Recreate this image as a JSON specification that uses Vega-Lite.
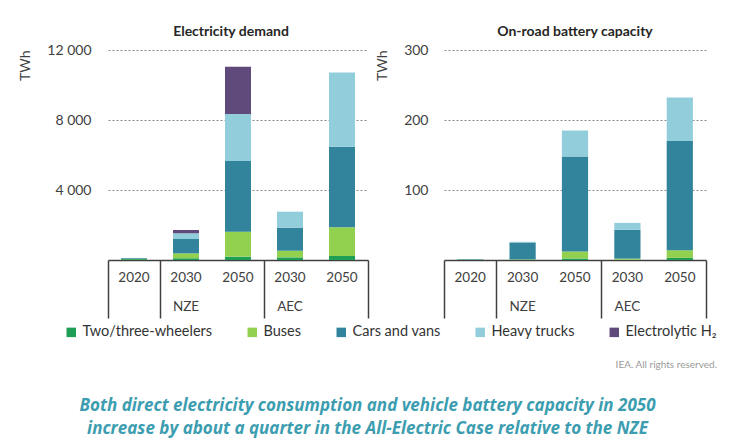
{
  "$schema": "https://vega.github.io/schema/vega-lite/v6.json",
  "padding": {"left": 18, "top": 25, "right": 5, "bottom": 5},
  "background": "white",
  "config": {
    "font": "Lato",
    "view": {"stroke": null},
    "axis": {"labelFont": "Lato", "titleFont": "Lato"},
    "legend": {"labelFont": "Lato", "titleFont": "Lato"}
  },
  "data": {
    "values": [
      {"panel": "demand", "cat": "2020", "mode": "Two/three-wheelers", "value": 50},
      {"panel": "demand", "cat": "2020", "mode": "Buses", "value": 20},
      {"panel": "demand", "cat": "2020", "mode": "Cars and vans", "value": 40},
      {"panel": "demand", "cat": "NZE 2030", "mode": "Two/three-wheelers", "value": 100},
      {"panel": "demand", "cat": "NZE 2030", "mode": "Buses", "value": 280},
      {"panel": "demand", "cat": "NZE 2030", "mode": "Cars and vans", "value": 820},
      {"panel": "demand", "cat": "NZE 2030", "mode": "Heavy trucks", "value": 325},
      {"panel": "demand", "cat": "NZE 2030", "mode": "Electrolytic H₂", "value": 190},
      {"panel": "demand", "cat": "NZE 2050", "mode": "Two/three-wheelers", "value": 190},
      {"panel": "demand", "cat": "NZE 2050", "mode": "Buses", "value": 1430},
      {"panel": "demand", "cat": "NZE 2050", "mode": "Cars and vans", "value": 4040},
      {"panel": "demand", "cat": "NZE 2050", "mode": "Heavy trucks", "value": 2680},
      {"panel": "demand", "cat": "NZE 2050", "mode": "Electrolytic H₂", "value": 2700},
      {"panel": "demand", "cat": "AEC 2030", "mode": "Two/three-wheelers", "value": 150},
      {"panel": "demand", "cat": "AEC 2030", "mode": "Buses", "value": 380},
      {"panel": "demand", "cat": "AEC 2030", "mode": "Cars and vans", "value": 1320},
      {"panel": "demand", "cat": "AEC 2030", "mode": "Heavy trucks", "value": 910},
      {"panel": "demand", "cat": "AEC 2050", "mode": "Two/three-wheelers", "value": 230},
      {"panel": "demand", "cat": "AEC 2050", "mode": "Buses", "value": 1640},
      {"panel": "demand", "cat": "AEC 2050", "mode": "Cars and vans", "value": 4600},
      {"panel": "demand", "cat": "AEC 2050", "mode": "Heavy trucks", "value": 4250},
      {"panel": "battery", "cat": "2020", "mode": "Two/three-wheelers", "value": 0.3},
      {"panel": "battery", "cat": "2020", "mode": "Buses", "value": 0.2},
      {"panel": "battery", "cat": "2020", "mode": "Cars and vans", "value": 0.6},
      {"panel": "battery", "cat": "NZE 2030", "mode": "Two/three-wheelers", "value": 0.5},
      {"panel": "battery", "cat": "NZE 2030", "mode": "Buses", "value": 0.5},
      {"panel": "battery", "cat": "NZE 2030", "mode": "Cars and vans", "value": 24},
      {"panel": "battery", "cat": "NZE 2030", "mode": "Heavy trucks", "value": 1},
      {"panel": "battery", "cat": "NZE 2050", "mode": "Two/three-wheelers", "value": 2},
      {"panel": "battery", "cat": "NZE 2050", "mode": "Buses", "value": 10},
      {"panel": "battery", "cat": "NZE 2050", "mode": "Cars and vans", "value": 136},
      {"panel": "battery", "cat": "NZE 2050", "mode": "Heavy trucks", "value": 37},
      {"panel": "battery", "cat": "AEC 2030", "mode": "Two/three-wheelers", "value": 0.5},
      {"panel": "battery", "cat": "AEC 2030", "mode": "Buses", "value": 1.5},
      {"panel": "battery", "cat": "AEC 2030", "mode": "Cars and vans", "value": 41},
      {"panel": "battery", "cat": "AEC 2030", "mode": "Heavy trucks", "value": 10},
      {"panel": "battery", "cat": "AEC 2050", "mode": "Two/three-wheelers", "value": 3},
      {"panel": "battery", "cat": "AEC 2050", "mode": "Buses", "value": 11},
      {"panel": "battery", "cat": "AEC 2050", "mode": "Cars and vans", "value": 156},
      {"panel": "battery", "cat": "AEC 2050", "mode": "Heavy trucks", "value": 62}
    ]
  },
  "transform": [
    {"calculate": "indexof(['Two/three-wheelers', 'Buses', 'Cars and vans', 'Heavy trucks', 'Electrolytic H₂'], datum.mode)", "as": "stack_rank"}
  ],
  "title": {
    "text": ["Both direct electricity consumption and vehicle battery capacity in 2050", "increase by about a quarter in the All-Electric Case relative to the NZE"],
    "orient": "bottom",
    "anchor": "middle",
    "font": "Open Sans",
    "fontSize": 17,
    "fontStyle": "italic",
    "fontWeight": "bold",
    "color": "#3c9db0",
    "lineHeight": 23,
    "offset": 28
  },
  "spacing": 6,
  "resolve": {"scale": {"color": "shared"}},
  "hconcat": [
    {
      "width": 260,
      "height": 210,
      "title": {"text": "Electricity demand", "fontSize": 14, "fontWeight": "bold", "color": "#262626", "offset": 4, "dx": -7},
      "transform": [{"filter": "datum.panel === 'demand'"}],
      "layer": [
        {
          "mark": {"type": "bar", "width": {"band": 0.5}},
          "encoding": {
            "x": {
              "field": "cat", "type": "nominal",
              "scale": {"domain": ["2020", "NZE 2030", "NZE 2050", "AEC 2030", "AEC 2050"], "paddingInner": 0, "paddingOuter": 0},
              "axis": {"title": null, "orient": "bottom", "ticks": false, "domain": true, "domainColor": "#404040", "domainWidth": 1.5, "labelExpr": "peek(split(datum.label, ' '))", "labelFontSize": 13.5, "labelColor": "#404040", "labelPadding": 10, "labelAngle": 0, "grid": false}
            },
            "y": {
              "field": "value", "type": "quantitative", "stack": "zero",
              "scale": {"domain": [0, 12000], "nice": false},
              "axis": {"title": "TWh", "values": [4000, 8000, 12000], "labelExpr": "replace(format(datum.value, ','), ',', ' ')", "grid": true, "gridDash": [2, 2], "gridColor": "#8a8a8a", "ticks": false, "domain": false, "labelPadding": 17, "labelFontSize": 14, "labelColor": "#404040", "titleAngle": 270, "titleX": -83, "titleY": 0, "titleAlign": "right", "titleBaseline": "middle", "titleFontSize": 14, "titleFontWeight": "normal", "titleColor": "#404040"}
            },
            "order": {"field": "stack_rank", "type": "quantitative", "sort": "ascending"},
            "color": {
              "field": "mode", "type": "nominal",
              "sort": ["Two/three-wheelers", "Buses", "Cars and vans", "Heavy trucks", "Electrolytic H₂"],
              "scale": {"domain": ["Two/three-wheelers", "Buses", "Cars and vans", "Heavy trucks", "Electrolytic H₂"], "range": ["#1f9e55", "#92d050", "#31849b", "#92cddc", "#604a7b"]},
              "legend": {"title": "IEA. All rights reserved.", "orient": "none", "legendX": -44, "legendY": 275, "direction": "horizontal", "titleOrient": "bottom", "titleAnchor": "end", "titleFontSize": 10, "titleFontWeight": "normal", "titleColor": "#9a9a9a", "titlePadding": 21, "symbolType": "square", "symbolSize": 90, "symbolStrokeWidth": 0, "labelFontSize": 14.5, "labelColor": "#333333", "columnPadding": 32, "labelOffset": 4}
            }
          }
        },
        {
          "mark": {"type": "bar", "opacity": 0},
          "encoding": {
            "x": {"field": "cat", "type": "nominal", "axis": {"title": null, "orient": "bottom", "values": ["2020", "NZE 2050", "AEC 2050"], "bandPosition": 1, "tickExtra": true, "labels": false, "domain": false, "ticks": true, "tickSize": 58, "tickColor": "#404040", "tickWidth": 1.5, "grid": false}}
          }
        },
        {
          "mark": {"type": "bar", "opacity": 0},
          "encoding": {
            "x": {"field": "cat", "type": "nominal", "axis": {"title": null, "orient": "bottom", "values": ["NZE 2030", "AEC 2030"], "bandPosition": 1, "labelExpr": "split(datum.label, ' ')[0]", "ticks": false, "domain": false, "labelPadding": 39, "labelFontSize": 13.5, "labelColor": "#404040", "labelAngle": 0, "grid": false}}
          }
        }
      ],
      "resolve": {"axis": {"x": "independent"}}
    },
    {
      "width": 262,
      "height": 210,
      "title": {"text": "On-road battery capacity", "fontSize": 14, "fontWeight": "bold", "color": "#262626", "offset": 4},
      "transform": [{"filter": "datum.panel === 'battery'"}],
      "layer": [
        {
          "mark": {"type": "bar", "width": {"band": 0.5}},
          "encoding": {
            "x": {
              "field": "cat", "type": "nominal",
              "scale": {"domain": ["2020", "NZE 2030", "NZE 2050", "AEC 2030", "AEC 2050"], "paddingInner": 0, "paddingOuter": 0},
              "axis": {"title": null, "orient": "bottom", "ticks": false, "domain": true, "domainColor": "#404040", "domainWidth": 1.5, "labelExpr": "peek(split(datum.label, ' '))", "labelFontSize": 13.5, "labelColor": "#404040", "labelPadding": 10, "labelAngle": 0, "grid": false}
            },
            "y": {
              "field": "value", "type": "quantitative", "stack": "zero",
              "scale": {"domain": [0, 300], "nice": false},
              "axis": {"title": "TWh", "values": [100, 200, 300], "grid": true, "gridDash": [2, 2], "gridColor": "#8a8a8a", "ticks": false, "domain": false, "labelPadding": 16, "labelFontSize": 14, "labelColor": "#404040", "titleAngle": 270, "titleX": -62, "titleY": 0, "titleAlign": "right", "titleBaseline": "middle", "titleFontSize": 14, "titleFontWeight": "normal", "titleColor": "#404040"}
            },
            "order": {"field": "stack_rank", "type": "quantitative", "sort": "ascending"},
            "color": {
              "field": "mode", "type": "nominal",
              "sort": ["Two/three-wheelers", "Buses", "Cars and vans", "Heavy trucks", "Electrolytic H₂"],
              "scale": {"domain": ["Two/three-wheelers", "Buses", "Cars and vans", "Heavy trucks", "Electrolytic H₂"], "range": ["#1f9e55", "#92d050", "#31849b", "#92cddc", "#604a7b"]},
              "legend": {"title": "IEA. All rights reserved.", "orient": "none", "legendX": -44, "legendY": 275, "direction": "horizontal", "titleOrient": "bottom", "titleAnchor": "end", "titleFontSize": 10, "titleFontWeight": "normal", "titleColor": "#9a9a9a", "titlePadding": 21, "symbolType": "square", "symbolSize": 90, "symbolStrokeWidth": 0, "labelFontSize": 14.5, "labelColor": "#333333", "columnPadding": 32, "labelOffset": 4}
            }
          }
        },
        {
          "mark": {"type": "bar", "opacity": 0},
          "encoding": {
            "x": {"field": "cat", "type": "nominal", "axis": {"title": null, "orient": "bottom", "values": ["2020", "NZE 2050", "AEC 2050"], "bandPosition": 1, "tickExtra": true, "labels": false, "domain": false, "ticks": true, "tickSize": 58, "tickColor": "#404040", "tickWidth": 1.5, "grid": false}}
          }
        },
        {
          "mark": {"type": "bar", "opacity": 0},
          "encoding": {
            "x": {"field": "cat", "type": "nominal", "axis": {"title": null, "orient": "bottom", "values": ["NZE 2030", "AEC 2030"], "bandPosition": 1, "labelExpr": "split(datum.label, ' ')[0]", "ticks": false, "domain": false, "labelPadding": 39, "labelFontSize": 13.5, "labelColor": "#404040", "labelAngle": 0, "grid": false}}
          }
        }
      ],
      "resolve": {"axis": {"x": "independent"}}
    }
  ]
}
